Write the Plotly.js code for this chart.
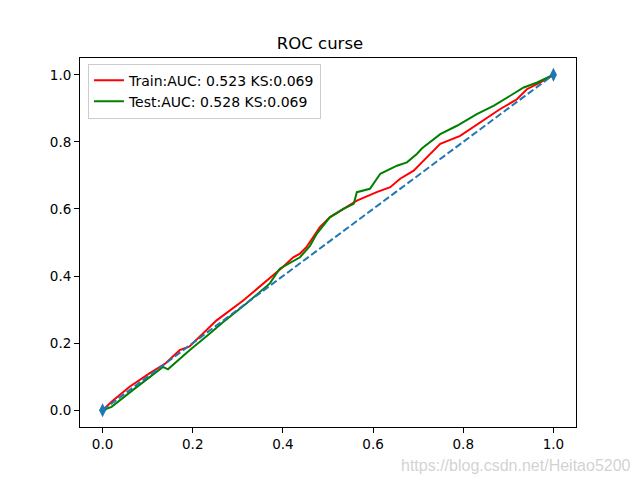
<!DOCTYPE html>
<html>
<head>
<meta charset="utf-8">
<script src="https://cdn.plot.ly/plotly-3.0.1.min.js"></script>
<style>html,body{margin:0;padding:0;background:#fff;}#chart{width:640px;height:480px;}</style>
</head>
<body>
<div id="chart"></div>
<script>
const trainX = [0, 0.02, 0.06, 0.104, 0.14, 0.171, 0.193, 0.22, 0.253, 0.312, 0.35, 0.40, 0.423, 0.438, 0.452, 0.482, 0.504, 0.535, 0.564, 0.608, 0.638, 0.66, 0.69, 0.712, 0.727, 0.749, 0.793, 0.838, 0.882, 0.919, 0.941, 0.971, 1];
const trainY = [0, 0.025, 0.07, 0.11, 0.14, 0.179, 0.19, 0.225, 0.268, 0.327, 0.37, 0.427, 0.456, 0.467, 0.486, 0.546, 0.575, 0.6, 0.625, 0.65, 0.665, 0.69, 0.714, 0.744, 0.765, 0.794, 0.818, 0.858, 0.898, 0.927, 0.957, 0.977, 1];
const testX = [0, 0.02, 0.067, 0.1, 0.134, 0.145, 0.193, 0.238, 0.267, 0.319, 0.371, 0.393, 0.438, 0.46, 0.475, 0.504, 0.534, 0.557, 0.564, 0.593, 0.616, 0.653, 0.675, 0.697, 0.708, 0.749, 0.786, 0.83, 0.868, 0.904, 0.934, 0.964, 1];
const testY = [0, 0.01, 0.06, 0.095, 0.129, 0.122, 0.179, 0.229, 0.262, 0.318, 0.378, 0.422, 0.456, 0.49, 0.526, 0.575, 0.6, 0.615, 0.65, 0.66, 0.705, 0.729, 0.739, 0.764, 0.78, 0.823, 0.848, 0.883, 0.908, 0.9375, 0.962, 0.977, 1];
const diagX = [0, 1];
const diagY = [0, 1];
const trainLabel = "Train:AUC: 0.523 KS:0.069";
const testLabel = "Test:AUC: 0.528 KS:0.069";
const titleText = "ROC curse";
const tickVals = [0, 0.2, 0.4, 0.6, 0.8, 1.0];
const tickText = ["0.0", "0.2", "0.4", "0.6", "0.8", "1.0"];

const font = "DejaVu Sans, sans-serif";
const traces = [
  {x: trainX, y: trainY, mode: "lines", name: trainLabel, line: {color: "#ff0000", width: 2}},
  {x: testX, y: testY, mode: "lines", name: testLabel, line: {color: "#008000", width: 2}},
  {x: diagX, y: diagY, mode: "lines+markers", showlegend: false,
   line: {color: "#1f77b4", width: 2, dash: "7px,3px"},
   marker: {symbol: "diamond-tall", size: 10, color: "#1f77b4"}}
];
const axisCommon = {
  range: [-0.05, 1.05], tickvals: tickVals, ticktext: tickText,
  showgrid: false, zeroline: false, showline: true, mirror: true,
  linecolor: "#000", linewidth: 1, ticks: "outside", ticklen: 5, tickcolor: "#000",
  tickfont: {family: font, size: 13.5, color: "#000"}
};
const layout = {
  width: 640, height: 480,
  margin: {l: 80, r: 64, t: 58, b: 53},
  paper_bgcolor: "#fff", plot_bgcolor: "#fff",
  title: {text: titleText, font: {family: font, size: 16.5, color: "#000"}, x: 0.5, xanchor: "center", y: 0.91, yanchor: "middle"},
  xaxis: Object.assign({}, axisCommon),
  yaxis: Object.assign({}, axisCommon),
  showlegend: true,
  legend: {x: 0.016, y: 0.985, xanchor: "left", yanchor: "top", bgcolor: "rgba(255,255,255,0.8)",
           bordercolor: "#cccccc", borderwidth: 1, font: {family: font, size: 14, color: "#000"},
           tracegroupgap: 0, itemwidth: 30},
  annotations: [{text: "https://blog.csdn.net/Heitao5200", xref: "paper", yref: "paper", x: 1.115, y: -0.105,
                 xanchor: "right", yanchor: "middle", showarrow: false,
                 font: {family: "Liberation Sans, Arial, sans-serif", size: 16, color: "rgba(190,190,190,0.7)"}}]
};
Plotly.newPlot("chart", traces, layout, {displayModeBar: false, staticPlot: true});
</script>
</body>
</html>
